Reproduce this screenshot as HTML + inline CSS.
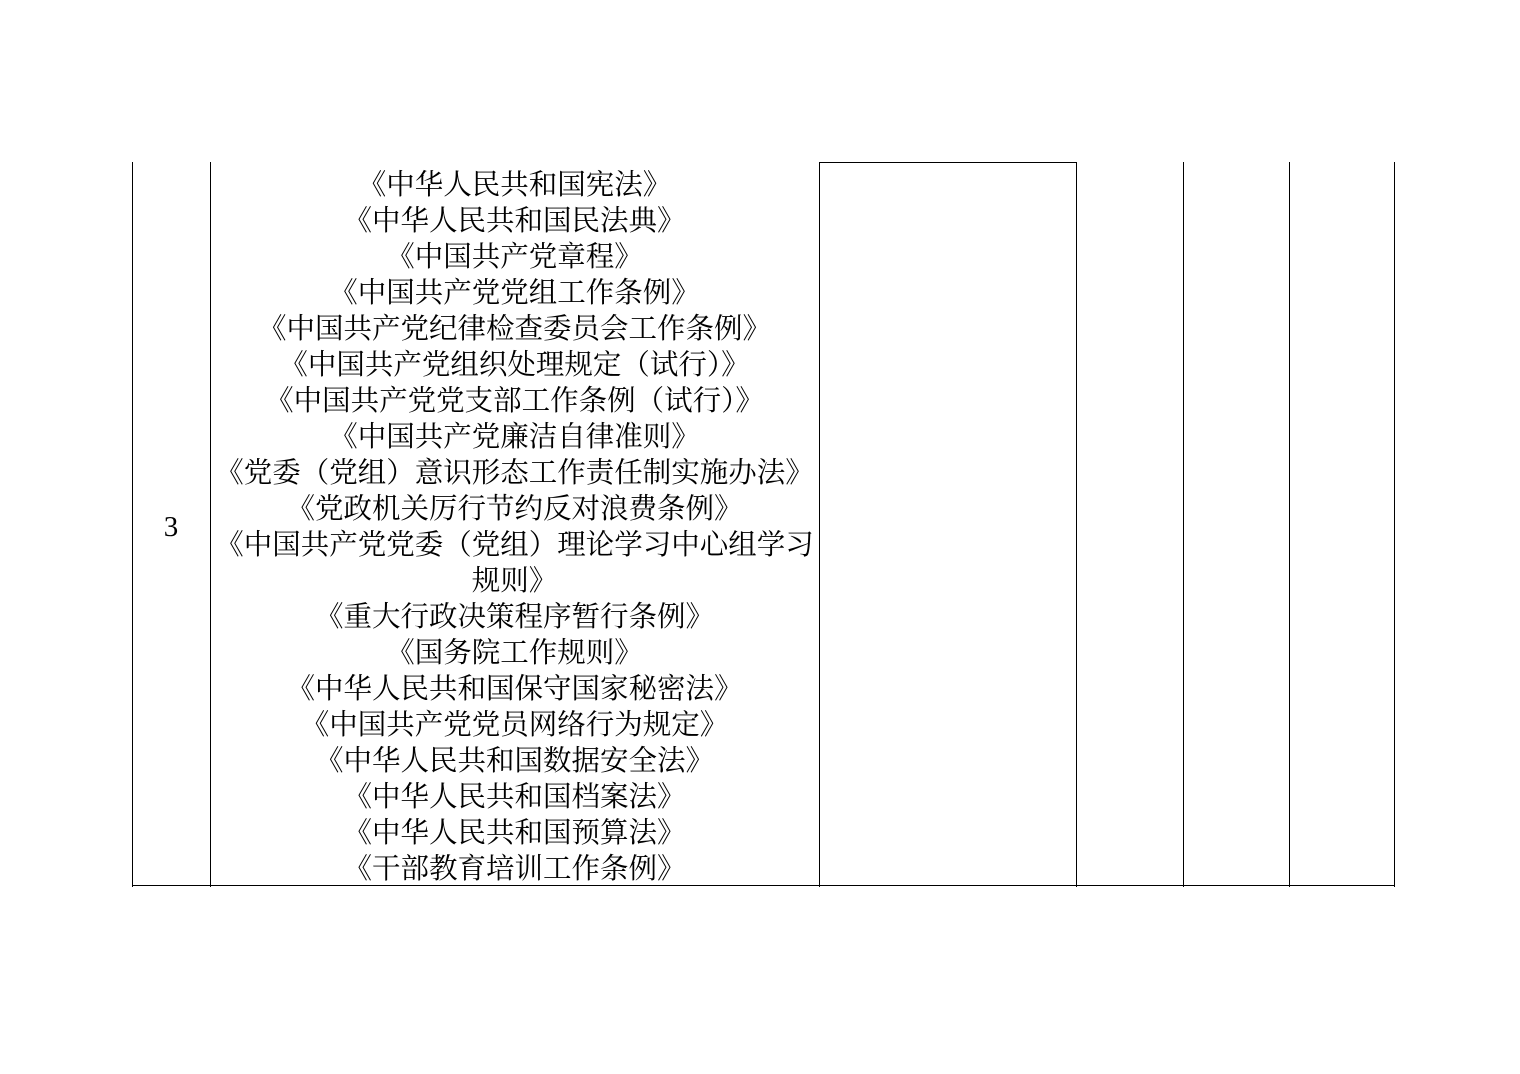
<!DOCTYPE html>
<html><head><meta charset="utf-8"><style>
body{margin:0;width:1520px;height:1074px;background:#fff;position:relative;overflow:hidden}
.v{position:absolute;top:162px;height:725px;width:1px;background:#000}
.h{position:absolute;height:1px;background:#000}
.t{position:absolute;left:200px;width:629px;text-align:center;font-family:"Noto Serif CJK SC","Liberation Serif",serif;font-size:28.5px;line-height:36px;white-space:nowrap;color:#000}
</style></head><body>
<div class="v" style="left:132px"></div>
<div class="v" style="left:210px"></div>
<div class="v" style="left:819px"></div>
<div class="v" style="left:1076px"></div>
<div class="v" style="left:1183px"></div>
<div class="v" style="left:1289px"></div>
<div class="v" style="left:1394px"></div>
<div class="h" style="left:819px;width:258px;top:162px"></div>
<div class="h" style="left:132px;width:1263px;top:885px"></div>
<div style="position:absolute;left:132px;width:78px;top:509px;text-align:center;font-family:'Liberation Serif',serif;font-size:29px;line-height:36px">3</div>
<div class="t" style="top:165px">《中华人民共和国宪法》</div>
<div class="t" style="top:201px">《中华人民共和国民法典》</div>
<div class="t" style="top:237px">《中国共产党章程》</div>
<div class="t" style="top:273px">《中国共产党党组工作条例》</div>
<div class="t" style="top:309px">《中国共产党纪律检查委员会工作条例》</div>
<div class="t" style="top:345px">《中国共产党组织处理规定（试行）》</div>
<div class="t" style="top:381px">《中国共产党党支部工作条例（试行）》</div>
<div class="t" style="top:417px">《中国共产党廉洁自律准则》</div>
<div class="t" style="top:453px">《党委（党组）意识形态工作责任制实施办法》</div>
<div class="t" style="top:489px">《党政机关厉行节约反对浪费条例》</div>
<div class="t" style="top:525px">《中国共产党党委（党组）理论学习中心组学习</div>
<div class="t" style="top:561px">规则》</div>
<div class="t" style="top:597px">《重大行政决策程序暂行条例》</div>
<div class="t" style="top:633px">《国务院工作规则》</div>
<div class="t" style="top:669px">《中华人民共和国保守国家秘密法》</div>
<div class="t" style="top:705px">《中国共产党党员网络行为规定》</div>
<div class="t" style="top:741px">《中华人民共和国数据安全法》</div>
<div class="t" style="top:777px">《中华人民共和国档案法》</div>
<div class="t" style="top:813px">《中华人民共和国预算法》</div>
<div class="t" style="top:849px">《干部教育培训工作条例》</div>
</body></html>
